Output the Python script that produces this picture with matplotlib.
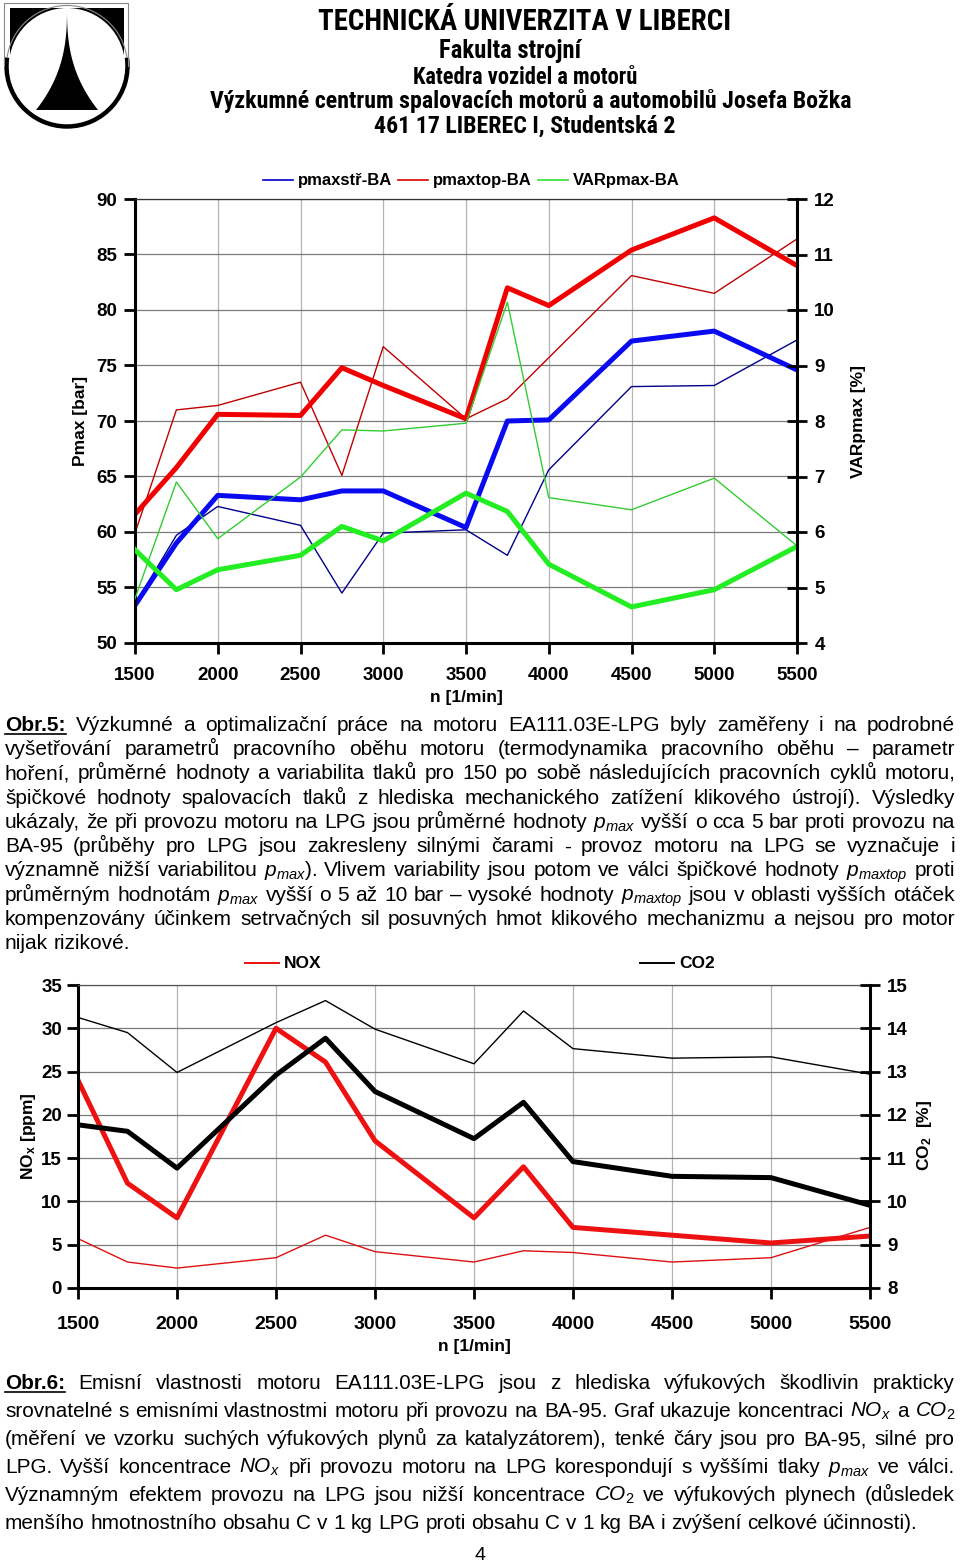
import os
import numpy as np
import matplotlib
matplotlib.use('Agg')
import matplotlib.pyplot as plt
from matplotlib import font_manager as fm
from matplotlib.font_manager import FontProperties
from matplotlib.textpath import TextPath
from matplotlib.patches import Rectangle, Circle, Arc, Polygon

# ---------------- data ----------------
rpm = [1500, 1750, 2000, 2500, 2750, 3000, 3500, 3750, 4000, 4500, 5000, 5500]

pmaxstr_lpg = [53.4, 59.0, 63.3, 62.9, 63.7, 63.7, 60.4, 70.0, 70.1, 77.2, 78.1, 74.6]
pmaxstr_ba = [53.5, 59.7, 62.3, 60.6, 54.5, 59.9, 60.2, 57.9, 65.6, 73.1, 73.2, 77.3]
pmaxtop_lpg = [61.6, 65.8, 70.6, 70.5, 74.8, 73.2, 70.2, 82.0, 80.4, 85.4, 88.3, 84.0]
pmaxtop_ba = [59.9, 71.0, 71.4, 73.5, 65.1, 76.7, 70.2, 72.0, 75.7, 83.1, 81.5, 86.4]
var_lpg = [5.68, 4.96, 5.32, 5.58, 6.10, 5.84, 6.70, 6.37, 5.42, 4.65, 4.96, 5.74]
var_ba = [4.80, 6.90, 5.88, 6.99, 7.84, 7.82, 7.96, 10.14, 6.62, 6.40, 6.97, 5.75]

nox_lpg = [24.0, 12.1, 8.1, 30.0, 26.1, 17.0, 8.1, 14.0, 7.0, 6.1, 5.2, 6.0]
nox_ba = [5.7, 3.0, 2.3, 3.5, 6.1, 4.2, 3.0, 4.3, 4.1, 3.0, 3.5, 7.0]
co2_lpg = [11.77, 11.62, 10.77, 12.92, 13.77, 12.54, 11.45, 12.29, 10.92, 10.58, 10.55, 9.91]
co2_ba = [14.25, 13.90, 12.98, 14.13, 14.64, 13.98, 13.18, 14.40, 13.53, 13.31, 13.34, 12.94]

x_ticks = [1500, 2000, 2500, 3000, 3500, 4000, 4500, 5000, 5500]
pmax_ticks = [50, 55, 60, 65, 70, 75, 80, 85, 90]
var_ticks = [4, 5, 6, 7, 8, 9, 10, 11, 12]
nox_ticks = [0, 5, 10, 15, 20, 25, 30, 35]
co2_ticks = [8, 9, 10, 11, 12, 13, 14, 15]

legend_top = ['pmaxstř-BA', 'pmaxtop-BA', 'VARpmax-BA']
legend_bottom = ['NOX', 'CO2']

header_lines = ['TECHNICKÁ UNIVERZITA V LIBERCI', 'Fakulta strojní', 'Katedra vozidel a motorů',
                'Výzkumné centrum spalovacích motorů a automobilů Josefa Božka',
                '461 17 LIBEREC I, Studentská 2']

para1 = [
    "§Obr.5: Výzkumné a optimalizační práce na motoru EA111.03E-LPG byly zaměřeny i na podrobné",
    "vyšetřování parametrů pracovního oběhu motoru (termodynamika pracovního oběhu – parametr",
    "hoření, průměrné hodnoty a variabilita tlaků pro 150 po sobě následujících pracovních cyklů motoru,",
    "špičkové hodnoty spalovacích tlaků z hlediska mechanického zatížení klikového ústrojí). Výsledky",
    "ukázaly, že při provozu motoru na LPG jsou průměrné hodnoty $p_{max}$ vyšší o cca 5 bar proti provozu na",
    "BA-95 (průběhy pro LPG jsou zakresleny silnými čarami - provoz motoru na LPG se vyznačuje i",
    "významně nižší variabilitou $p_{max}$). Vlivem variability jsou potom ve válci špičkové hodnoty $p_{maxtop}$ proti",
    "průměrným hodnotám $p_{max}$ vyšší o 5 až 10 bar – vysoké hodnoty $p_{maxtop}$ jsou v oblasti vyšších otáček",
    "kompenzovány účinkem setrvačných sil posuvných hmot klikového mechanizmu a nejsou pro motor",
    "nijak rizikové.",
]
para2 = [
    "§Obr.6: Emisní vlastnosti motoru EA111.03E-LPG jsou z hlediska výfukových škodlivin prakticky",
    "srovnatelné s emisními vlastnostmi motoru při provozu na BA-95. Graf ukazuje koncentraci $NO_x$ a $CO_2$",
    "(měření ve vzorku suchých výfukových plynů za katalyzátorem), tenké čáry jsou pro BA-95, silné pro",
    "LPG. Vyšší koncentrace $NO_x$ při provozu motoru na LPG korespondují s vyššími tlaky $p_{max}$ ve válci.",
    "Významným efektem provozu na LPG jsou nižší koncentrace $CO_2$ ve výfukových plynech (důsledek",
    "menšího hmotnostního obsahu C v 1 kg LPG proti obsahu C v 1 kg BA i zvýšení celkové účinnosti).",
]

# ---------------- fonts ----------------
SANS = 'Liberation Sans'
plt.rcParams['font.family'] = [SANS, 'DejaVu Sans']
plt.rcParams['font.weight'] = 'normal'
plt.rcParams['mathtext.fontset'] = 'custom'
plt.rcParams['mathtext.rm'] = SANS
plt.rcParams['mathtext.it'] = SANS + ':italic'
plt.rcParams['mathtext.bf'] = SANS + ':bold'


def _w(f):
    w = f.weight
    if isinstance(w, str):
        w = fm.weight_dict.get(w, 400)
    return w


def find_narrow(bold):
    prefs = ['liberation', 'arimo', 'arial', 'noto', 'roboto', 'open', 'lato', 'inter', 'dejavu']
    best, best_rank = None, 99
    for f in fm.fontManager.ttflist:
        nm = f.name.lower()
        fn = os.path.basename(f.fname).lower().replace('-', '').replace('_', '')
        s = nm.replace(' ', '') + ' ' + fn
        if not ('narrow' in s or 'condensed' in s):
            continue
        if any(k in s for k in ('semicondensed', 'extracondensed', 'ultracondensed', 'serif', 'mono',
                                'italic', 'oblique', 'display', 'light', 'thin', 'black', 'medium',
                                'semibold', 'extrabold')):
            continue
        if f.style != 'normal':
            continue
        if (_w(f) >= 700) != bold:
            continue
        rank = next((i for i, p in enumerate(prefs) if p in s), 50)
        if rank < best_rank:
            best, best_rank = f.fname, rank
    return best


_nb = find_narrow(True)
FP_HEAD = FontProperties(fname=_nb) if _nb else FontProperties(family=SANS, weight='bold')
FP_REG = FontProperties(family=SANS)
FP_BOLD = FontProperties(family=SANS, weight='bold')


def cap_ratio(fp):
    return TextPath((0, 0), 'H', size=100, prop=fp).get_extents().height / 100.0


CAP_HEAD = cap_ratio(FP_HEAD)


def size_for_cap(cap_px, ratio):
    return cap_px / ratio * 0.72


W, H = 960, 1565
fig = plt.figure(figsize=(9.6, 15.65), dpi=100)
r = fig.canvas.get_renderer()


def fx(x):
    return x / W


def fy(y):
    return 1 - y / H


def width_of(t):
    return t.get_window_extent(renderer=r).width


ov = fig.add_axes([0, 0, 1, 1], zorder=-1)
ov.set_xlim(0, W)
ov.set_ylim(H, 0)
ov.axis('off')

# ---------------- logo ----------------
ov.plot([4, 4, 128, 128], [66, 3, 3, 66], color='#888888', lw=0.8)
ov.add_patch(Rectangle((10, 8), 114, 62, color='black', lw=0))
ov.add_patch(Circle((67, 66), 58, color='white', lw=0))
ov.add_patch(Arc((67, 66), 121, 121, theta1=-8, theta2=188, color='black', lw=3.2))
ov.add_patch(Arc((67, 66), 121, 121, theta1=188, theta2=352, color='#888888', lw=0.8))
ys = np.linspace(8, 110, 60)
hw = 31 * ((ys - 8) / 102) ** 2.6
poly = np.vstack([np.column_stack([67 - hw, ys]), np.column_stack([(67 + hw)[::-1], ys[::-1]])])
ov.add_patch(Polygon(poly, closed=True, color='black', lw=0))

# ---------------- header ----------------
def fit(cx, base, s, target, cap, fp, size0=20):
    t = fig.text(fx(cx), fy(base), s, ha='center', va='baseline', fontproperties=fp, fontsize=size0)
    sz = min(size0 * target / width_of(t), size_for_cap(cap, CAP_HEAD))
    t.set_fontsize(sz)
    return t

hdr_pos = [(525, 30, 415, 20.5), (510, 58, 158, 17.5), (525, 84, 250, 16.0),
           (531, 108, 673, 17.0), (525, 133, 316, 17.0)]
for (cx, base, tw, cap), s in zip(hdr_pos, header_lines):
    fit(cx, base, s, tw, cap, FP_HEAD)


def style_axes(a, a2):
    for aa in (a, a2):
        for sp in aa.spines.values():
            sp.set_visible(False)
    for k in ('left', 'bottom', 'top'):
        a.spines[k].set_visible(True)
    a.spines['left'].set_linewidth(2.2)
    a.spines['bottom'].set_linewidth(2.2)
    a.spines['top'].set_linewidth(0.9)
    a.spines['top'].set_color('#333333')
    a2.spines['right'].set_visible(True)
    a2.spines['right'].set_linewidth(2.2)
    a.set_axisbelow(True)
    a.xaxis.grid(True, color='#b4b4b4', lw=0.9)
    a.yaxis.grid(True, color='#7a7a7a', lw=0.9)


# ---------------- top chart ----------------
ax = fig.add_axes([fx(135), fy(643), 662 / W, 444 / H])
ax2 = ax.twinx()
ax.set_xlim(1500, 5500)
ax.set_ylim(50, 90)
ax2.set_ylim(4, 12)
ax.set_xticks(x_ticks, [str(v) for v in x_ticks], fontweight='bold')
ax.set_yticks(pmax_ticks, [str(v) for v in pmax_ticks], fontweight='bold')
ax2.set_yticks(var_ticks, [str(v) for v in var_ticks], fontweight='bold')
style_axes(ax, ax2)

ax.plot(rpm, pmaxstr_ba, color='#00008b', lw=1.0)
ax.plot(rpm, pmaxtop_ba, color='#c00000', lw=1.0)
ax.plot(rpm, pmaxstr_lpg, color='#0a0af0', lw=3.6)
ax.plot(rpm, pmaxtop_lpg, color='#f00000', lw=3.6)
ax2.plot(rpm, var_ba, color='#33cc33', lw=1.0)
ax2.plot(rpm, var_lpg, color='#22ee22', lw=3.6)

ax.tick_params(axis='x', direction='out', length=8, width=2, pad=9, labelsize=13.5)
ax.tick_params(axis='y', direction='out', length=8, width=2, pad=5, labelsize=13.5)
ax2.tick_params(axis='y', direction='inout', length=14, width=2, pad=5.5, labelsize=13.5)

fig.text(fx(80), fy(421), 'Pmax [bar]', rotation=90, ha='center', va='center', fontsize=12.5, fontweight='bold')
fig.text(fx(858), fy(421), 'VARpmax [%]', rotation=90, ha='center', va='center', fontsize=12.5, fontweight='bold')
fig.text(fx(466), fy(698), 'n [1/min]', ha='center', va='center', fontsize=12.5, fontweight='bold')

leg_cols = ['#0000cc', '#dd0000', '#33dd33']
leg_x = [263, 398, 538]
for x0, c, s in zip(leg_x, leg_cols, legend_top):
    ov.plot([x0, x0 + 30], [180, 180], color=c, lw=1.2)
    fig.text(fx(x0 + 35), fy(180), s, ha='left', va='center', fontsize=12, fontweight='bold')

# ---------------- bottom chart ----------------
bx = fig.add_axes([fx(78), fy(1288), 792 / W, 303 / H])
bx2 = bx.twinx()
bx.set_xlim(1500, 5500)
bx.set_ylim(0, 35)
bx2.set_ylim(8, 15)
bx.set_xticks(x_ticks, [str(v) for v in x_ticks], fontweight='bold')
bx.set_yticks(nox_ticks, [str(v) for v in nox_ticks], fontweight='bold')
bx2.set_yticks(co2_ticks, [str(v) for v in co2_ticks], fontweight='bold')
style_axes(bx, bx2)
bx.spines['top'].set_color('#555555')

bx.plot(rpm, nox_ba, color='#dd1111', lw=1.0)
bx.plot(rpm, nox_lpg, color='#ee1111', lw=3.6)
bx2.plot(rpm, co2_ba, color='black', lw=1.0)
bx2.plot(rpm, co2_lpg, color='black', lw=3.6)

bx.tick_params(axis='x', direction='out', length=8, width=2, pad=12, labelsize=14)
bx.tick_params(axis='y', direction='out', length=8, width=2, pad=3.5, labelsize=13.5)
bx2.tick_params(axis='y', direction='inout', length=14, width=2, pad=5.5, labelsize=13.5)

fig.text(fx(28), fy(1136), r'NO$_\mathbf{x}$ [ppm]', rotation=90, ha='center', va='center',
         fontsize=12.5, fontweight='bold')
fig.text(fx(925), fy(1135), r'CO$_\mathbf{2}$  [%]', rotation=90, ha='center', va='center',
         fontsize=12.5, fontweight='bold')
fig.text(fx(474), fy(1346), 'n [1/min]', ha='center', va='center', fontsize=12.5, fontweight='bold')

for x0, c, s in zip([245, 640], ['#ee1111', 'black'], legend_bottom):
    ov.plot([x0, x0 + 34], [963, 963], color=c, lw=1.4)
    fig.text(fx(x0 + 39), fy(963), s, ha='left', va='center', fontsize=12.5, fontweight='bold')

# ---------------- paragraphs ----------------
def tokenize(line):
    toks = []
    for w in line.split(' '):
        if w.startswith('§'):
            toks.append((w[1:], True))
        else:
            toks.append((w, False))
    return toks


def measure(s, bold, size):
    t = fig.text(0, 0, s, fontproperties=FP_BOLD if bold else FP_REG, fontsize=size)
    w = width_of(t)
    t.remove()
    return w


def space_w(size):
    return measure('a a', False, size) - measure('aa', False, size)


def natural(line, size):
    toks = tokenize(line)
    return sum(measure(s, b, size) for s, b in toks) + space_w(size) * (len(toks) - 1)


def draw_par(lines, base0, step, size, x0=5, x1=955, last_x1=None):
    sp = space_w(size)
    for i, line in enumerate(lines):
        toks = tokenize(line)
        ws = [measure(s, b, size) for s, b in toks]
        last = (i == len(lines) - 1)
        if last and last_x1 is None:
            gap = sp
        else:
            right = last_x1 if last else x1
            gap = (right - x0 - sum(ws)) / max(len(toks) - 1, 1)
        x = x0
        y = base0 + i * step
        for (s, b), w in zip(toks, ws):
            fig.text(fx(x), fy(y), s, ha='left', va='baseline', fontsize=size,
                     fontproperties=FP_BOLD if b else FP_REG)
            if b:
                ov.plot([x, x + w], [y + 3, y + 3], color='black', lw=1.2)
            x += w + gap

s1 = 10 * 948 / max(natural(l, 10) for l in para1[:-1])
draw_par(para1, 731, 24.25, s1)
s2 = min(10 * 923 / natural(para2[-1], 10), 10 * 948 / max(natural(l, 10) for l in para2[:-1]))
draw_par(para2, 1389, 28, s2)

fig.text(fx(480), fy(1555), '4', ha='center', va='center', fontsize=14, fontproperties=FP_REG)

fig.savefig('out.png', dpi=100)
